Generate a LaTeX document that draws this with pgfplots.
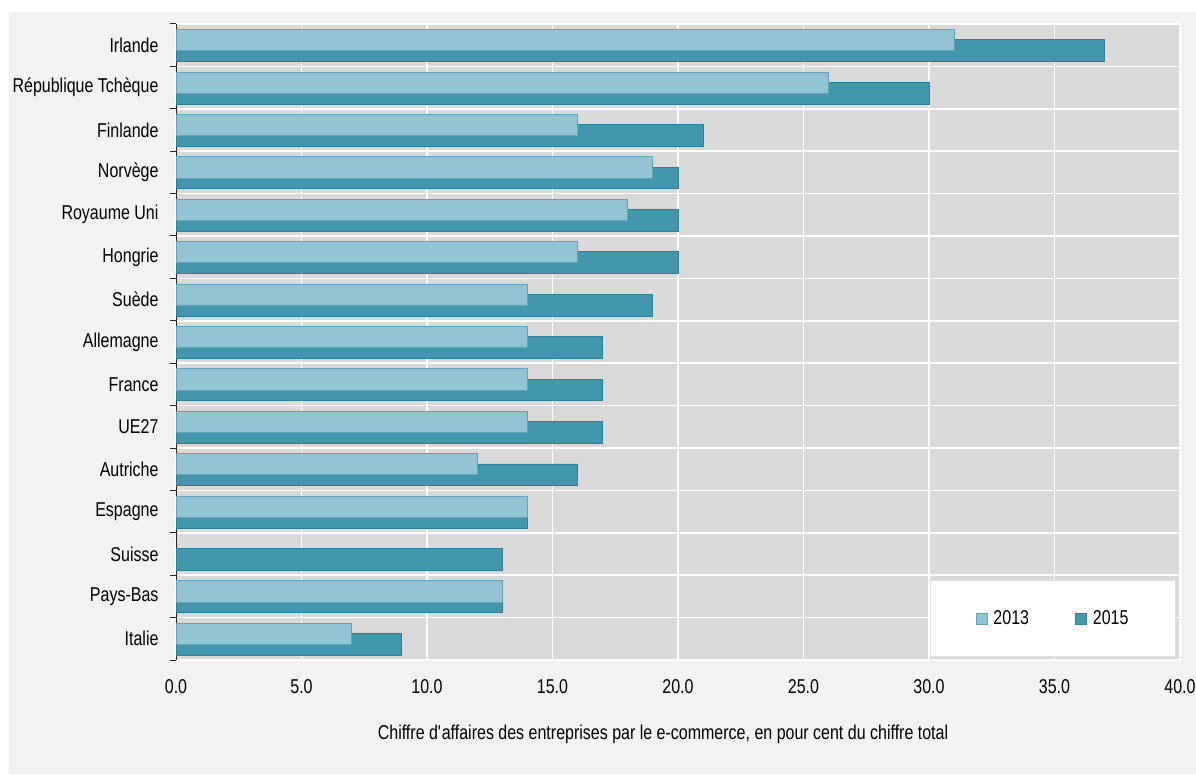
\documentclass[border=0pt]{standalone}
\usepackage{pgfplots}
\pgfplotsset{compat=1.18}
\usepackage{fontspec}
\setmainfont{Liberation Sans}[FakeStretch=0.8]
\definecolor{bgout}{HTML}{F2F2F2}
\definecolor{bgplot}{HTML}{D9D9D9}
\definecolor{cA}{HTML}{93C4D5}
\definecolor{cAd}{HTML}{62A3B8}
\definecolor{cB}{HTML}{4297AF}
\definecolor{cBd}{HTML}{2F7F96}
\begin{document}
\begin{tikzpicture}[font=\fontsize{20}{24}\selectfont]
\useasboundingbox (0pt,0pt) rectangle (1196pt,774pt);
\fill[white] (0pt,0pt) rectangle (1196pt,774pt);
\fill[bgout] (9pt,0pt) rectangle (1196pt,762pt);
\begin{axis}[
  at={(176pt,114pt)}, anchor=south west,
  scale only axis, width=1004pt, height=636pt,
  xmin=0, xmax=40, ymin=-0.5, ymax=14.5,
  axis background/.style={fill=bgplot},
  axis y line*=left, axis x line*=bottom,
  axis line style={-},
  x axis line style={draw=none},
  y axis line style={draw=black!85, line width=1pt},
  xtick={0,5,...,40},
  /pgf/number format/fixed, /pgf/number format/fixed zerofill, /pgf/number format/precision=1, /pgf/number format/assume math mode=true,
  xticklabel style={yshift=-16pt},
  ytick={0,...,14},
  yticklabels={Italie,Pays-Bas,Suisse,Espagne,Autriche,UE27,France,Allemagne,Suède,Hongrie,Royaume Uni,Norvège,Finlande,République Tchèque,Irlande},
  yticklabel style={xshift=-14pt},
  minor ytick={-0.5,0.5,...,14.5},
  major tick length=0pt,
  minor tick length=6pt,
  tick align=outside,
  x tick style={draw=none},
  minor y tick style={draw=black!85, line width=1pt},
  xmajorgrids=true, ymajorgrids=false, yminorgrids=true,
  major x grid style={white, line width=1.6pt},
  minor y grid style={white, line width=1.6pt},
  clip=false,
  legend style={
    at={(rel axis cs:0.996,0.005)}, anchor=south east,
    fill=white, draw=black!13, line width=1pt,
    legend columns=2,
    inner xsep=45pt, inner ysep=28pt,
    /tikz/every odd column/.append style={column sep=4pt},
    /tikz/every even column/.append style={column sep=44pt},
  },
  legend image code/.code={\draw[#1, line width=0.8pt] (0pt,-5.5pt) rectangle (11pt,5.5pt);},
]
\addplot[xbar, bar width=0.51, bar shift=-0.13, fill=cB, draw=cBd, line width=0.8pt, forget plot] coordinates {
(37,14) (30,13) (21,12) (20,11) (20,10) (20,9) (19,8) (17,7) (17,6) (17,5) (16,4) (14,3) (13,2) (13,1) (9,0)};
\addplot[xbar, bar width=0.50, bar shift=0.12, fill=cA, draw=cAd, line width=0.8pt, forget plot] coordinates {
(31,14) (26,13) (16,12) (19,11) (18,10) (16,9) (14,8) (14,7) (14,6) (14,5) (12,4) (14,3) (13,1) (7,0)};
\addlegendimage{fill=cA, draw=cAd}
\addlegendentry{2013}
\addlegendimage{fill=cB, draw=cBd}
\addlegendentry{2015}
\end{axis}
\node[anchor=base] at (663pt,35pt) {Chiffre d\textquotesingle affaires des entreprises par le e-commerce, en pour cent du chiffre total};
\end{tikzpicture}
\end{document}
